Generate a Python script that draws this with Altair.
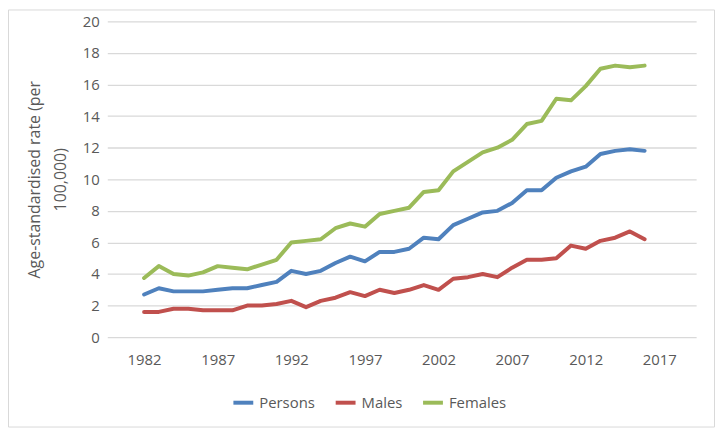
import altair as alt
import pandas as pd

years = list(range(1982, 2017))
persons = [2.7, 3.1, 2.9, 2.9, 2.9, 3.0, 3.1, 3.1, 3.3, 3.5,
           4.2, 4.0, 4.2, 4.7, 5.1, 4.8, 5.4, 5.4, 5.6, 6.3,
           6.2, 7.1, 7.5, 7.9, 8.0, 8.5, 9.3, 9.3, 10.1, 10.5,
           10.8, 11.6, 11.8, 11.9, 11.8]
males = [1.6, 1.6, 1.8, 1.8, 1.7, 1.7, 1.7, 2.0, 2.0, 2.1,
         2.3, 1.9, 2.3, 2.5, 2.85, 2.6, 3.0, 2.8, 3.0, 3.3,
         3.0, 3.7, 3.8, 4.0, 3.8, 4.4, 4.9, 4.9, 5.0, 5.8,
         5.6, 6.1, 6.3, 6.7, 6.2]
females = [3.75, 4.5, 4.0, 3.9, 4.1, 4.5, 4.4, 4.3, 4.6, 4.9,
           6.0, 6.1, 6.2, 6.9, 7.2, 7.0, 7.8, 8.0, 8.2, 9.2,
           9.3, 10.5, 11.1, 11.7, 12.0, 12.5, 13.5, 13.7, 15.1, 15.0,
           15.9, 17.0, 17.2, 17.1, 17.2]
series = ["Persons", "Males", "Females"]
colors = ["#4F81BD", "#C0504D", "#9BBB59"]
x_ticks = [1982, 1987, 1992, 1997, 2002, 2007, 2012, 2017]
y_ticks = list(range(0, 21, 2))

rows = []
for name, vals in zip(series, [persons, males, females]):
    for y, v in zip(years, vals):
        rows.append({"Year": y, "Rate": v, "Series": name})
df = pd.DataFrame(rows)

FONT = "Open Sans"
TXT = "#595959"

lines = alt.Chart(df).mark_line(strokeWidth=4, strokeCap="round", strokeJoin="round").encode(
    x=alt.X("Year:Q",
            scale=alt.Scale(domain=[1979.5, 2019.5], nice=False, zero=False),
            axis=alt.Axis(values=x_ticks, format="d", title=None, grid=False,
                          ticks=False, domain=False, labelPadding=16,
                          labelFontSize=15, labelColor=TXT, labelFont=FONT)),
    y=alt.Y("Rate:Q",
            scale=alt.Scale(domain=[0, 20], nice=False),
            axis=alt.Axis(values=y_ticks, title=["Age-standardised rate (per", "100,000)"],
                          titleFontSize=16, titleFontWeight="normal", titleColor=TXT,
                          titleFont=FONT, titleLineHeight=26, titlePadding=14,
                          grid=True, gridColor="#D9D9D9", gridWidth=1.3,
                          ticks=False, domain=False, labelPadding=8,
                          labelFontSize=15, labelColor=TXT, labelFont=FONT)),
    color=alt.Color("Series:N",
                    scale=alt.Scale(domain=series, range=colors),
                    sort=series,
                    legend=alt.Legend(orient="none", legendX=125, legendY=372,
                                      direction="horizontal", title=None,
                                      symbolType="stroke", symbolSize=400,
                                      symbolStrokeWidth=4, labelFontSize=15,
                                      labelColor=TXT, labelFont=FONT,
                                      columnPadding=12, labelOffset=4)),
)

border = alt.Chart(pd.DataFrame({"a": [0]})).mark_rect(
    fill=None, stroke="#D9D9D9", strokeWidth=1, clip=False
).encode(
    x=alt.value(-99.5), x2=alt.value(611.5), y=alt.value(-11.5), y2=alt.value(408.5)
)

chart = alt.layer(border, lines).properties(
    width=593, height=318,
    autosize=alt.AutoSizeParams(type="none"),
    padding={"left": 100, "top": 12, "right": 19, "bottom": 92},
).configure_view(stroke=None)

chart.save("out.html", embed_options={"renderer": "svg", "actions": False})
